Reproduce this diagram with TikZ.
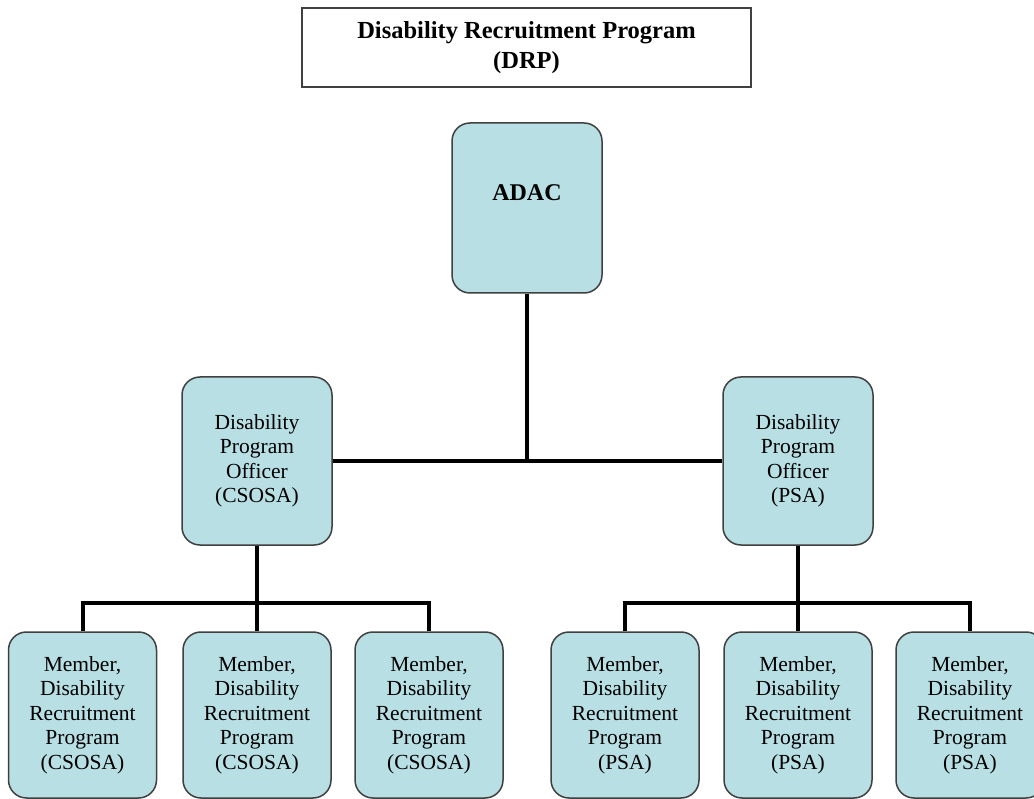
\documentclass[tikz,border=0pt]{standalone}
\usepackage{fontspec}
\setmainfont{Liberation Serif}
\definecolor{boxfill}{RGB}{184,223,228}
\definecolor{boxline}{RGB}{64,64,64}
\begin{document}
\begin{tikzpicture}[x=1pt,y=-1pt,
  box/.style={draw=boxline, line width=1.5pt, fill=boxfill, rounded corners=18pt,
    align=center, inner sep=0pt, font=\fontsize{21.5}{24.5}\selectfont},
  member/.style={box, minimum width=148pt, minimum height=166pt},
  officer/.style={box, minimum width=150pt, minimum height=168pt},
  link/.style={line width=4pt, black}]
\useasboundingbox (0,0) rectangle (1034,799);
\clip (0,0) rectangle (1034,799);
\fill[white] (0,0) rectangle (1034,799);

% title
\node[draw=boxline, line width=2pt, minimum width=449pt, minimum height=79pt,
  align=center, inner sep=0pt, font=\bfseries\fontsize{24.5}{30}\selectfont]
  (title) at (526.5,47.5) {Disability Recruitment Program\\(DRP)};

% junctions
\coordinate (jL) at (257,603);
\coordinate (jR) at (798,603);

% boxes
\node[box, minimum width=150pt, minimum height=170pt,
  font=\bfseries\fontsize{24}{28}\selectfont] (adac) at (527,208) {\raisebox{30pt}{ADAC}};
\node[officer] (ocs) at (257,461) {Disability\\Program\\Officer\\(CSOSA)};
\node[officer] (ops) at (798,461) {Disability\\Program\\Officer\\(PSA)};

\node[member] (m1) at (82.5,715) {Member,\\Disability\\Recruitment\\Program\\(CSOSA)};
\node[member] (m2) at (257,715) {Member,\\Disability\\Recruitment\\Program\\(CSOSA)};
\node[member] (m3) at (429,715) {Member,\\Disability\\Recruitment\\Program\\(CSOSA)};
\node[member] (m4) at (625,715) {Member,\\Disability\\Recruitment\\Program\\(PSA)};
\node[member] (m5) at (798,715) {Member,\\Disability\\Recruitment\\Program\\(PSA)};
\node[member] (m6) at (970,715) {Member,\\Disability\\Recruitment\\Program\\(PSA)};

% connectors
\draw[link] (adac.south) -- (adac.south |- ocs.east);
\draw[link] (ocs.east) -- (ops.west);
\draw[link] (ocs.south) -- (m2.north);
\draw[link] (m1.north) |- (jL) -| (m3.north);
\draw[link] (ops.south) -- (m5.north);
\draw[link] (m4.north) |- (jR) -| (m6.north);
\end{tikzpicture}
\end{document}
